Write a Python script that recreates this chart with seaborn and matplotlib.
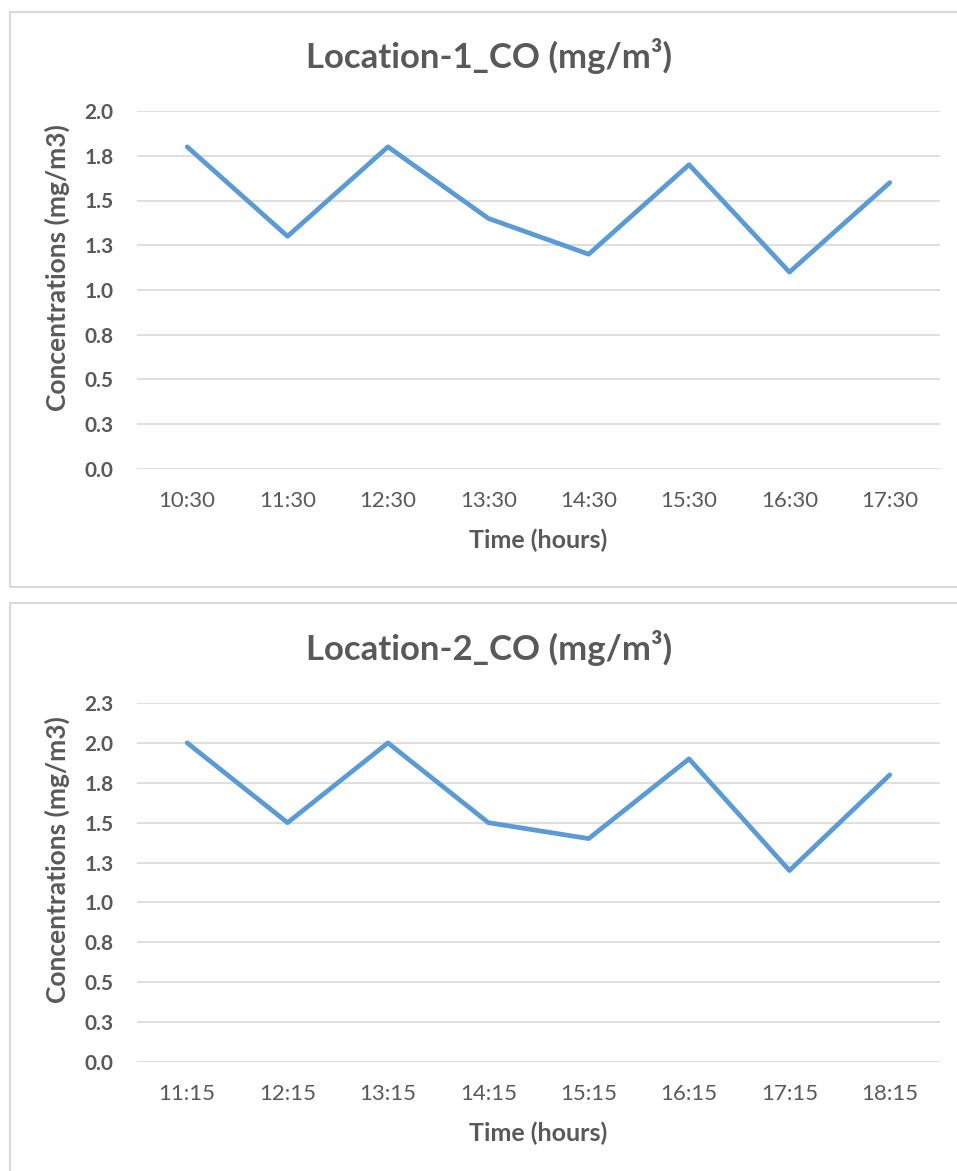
import matplotlib
matplotlib.use("Agg")
import matplotlib.pyplot as plt
import seaborn as sns
import pandas as pd
from matplotlib.patches import Rectangle

times1 = ["10:30", "11:30", "12:30", "13:30", "14:30", "15:30", "16:30", "17:30"]
co1 = [1.80, 1.30, 1.80, 1.40, 1.20, 1.70, 1.10, 1.60]
times2 = ["11:15", "12:15", "13:15", "14:15", "15:15", "16:15", "17:15", "18:15"]
co2 = [2.00, 1.50, 2.00, 1.50, 1.40, 1.90, 1.20, 1.80]
yticks1 = [0.0, 0.25, 0.5, 0.75, 1.0, 1.25, 1.5, 1.75, 2.0]
ylabels1 = ["0.0", "0.3", "0.5", "0.8", "1.0", "1.3", "1.5", "1.8", "2.0"]
yticks2 = [0.0, 0.25, 0.5, 0.75, 1.0, 1.25, 1.5, 1.75, 2.0, 2.25]
ylabels2 = ["0.0", "0.3", "0.5", "0.8", "1.0", "1.3", "1.5", "1.8", "2.0", "2.3"]
titles = ["Location-1_CO (mg/m³)", "Location-2_CO (mg/m³)"]

sns.set_theme(style="white")
plt.rcParams['font.family'] = ['Lato', 'DejaVu Sans']

W, H = 957, 1171
fig = plt.figure(figsize=(W / 100, H / 100), dpi=100)

gray = "#595959"
grid = "#D9D9D9"
line = "#5B9BD5"

def fx(px):
    return px / W

def fy(py):
    return 1 - py / H

# panel borders
fig.patches.append(Rectangle((fx(10), fy(587)), fx(960) - fx(10), fy(12) - fy(587),
                             transform=fig.transFigure, fill=False, edgecolor=grid, lw=1.5))
fig.patches.append(Rectangle((fx(10), fy(1180)), fx(960) - fx(10), fy(603) - fy(1180),
                             transform=fig.transFigure, fill=False, edgecolor=grid, lw=1.5))

specs = [
    (times1, co1, yticks1, ylabels1, titles[0], 111, 469, 2.0, 56, 540, 268),
    (times2, co2, yticks2, ylabels2, titles[1], 703, 1062, 2.25, 648, 1133, 860),
]

for times, vals, yt, yl, title, ytop, ybot, ymax, ty, xly, yly in specs:
    ax = fig.add_axes([fx(137), fy(ybot), fx(940) - fx(137), fy(ytop) - fy(ybot)])
    df = pd.DataFrame({"Time": times, "CO": vals})
    sns.lineplot(data=df, x="Time", y="CO", ax=ax, color=line, lw=3.4, sort=False)
    ax.set_xlim(-0.5, len(times) - 0.5)
    ax.set_ylim(0, ymax)
    ax.set_yticks(yt)
    ax.set_yticklabels(yl, fontsize=15, fontweight="bold", color=gray)
    ax.set_xticks(range(len(times)))
    ax.set_xticklabels(times, fontsize=16, color=gray)
    ax.tick_params(axis="both", length=0)
    ax.tick_params(axis="x", pad=16)
    ax.tick_params(axis="y", pad=17)
    ax.grid(axis="y", color=grid, lw=1.2)
    ax.grid(axis="x", visible=False)
    for s in ax.spines.values():
        s.set_visible(False)
    ax.set_xlabel("")
    ax.set_ylabel("")
    fig.text(fx(57), fy(yly), "Concentrations (mg/m3)", rotation=90, ha="center",
             va="center", fontsize=19, fontweight="bold", color=gray)
    fig.text(fx(489), fy(ty), title, ha="center", va="center", fontsize=25,
             fontweight="bold", color=gray)
    fig.text(fx(538), fy(xly), "Time (hours)", ha="center", va="center", fontsize=18,
             fontweight="bold", color=gray)

fig.savefig("out.png", dpi=100)
